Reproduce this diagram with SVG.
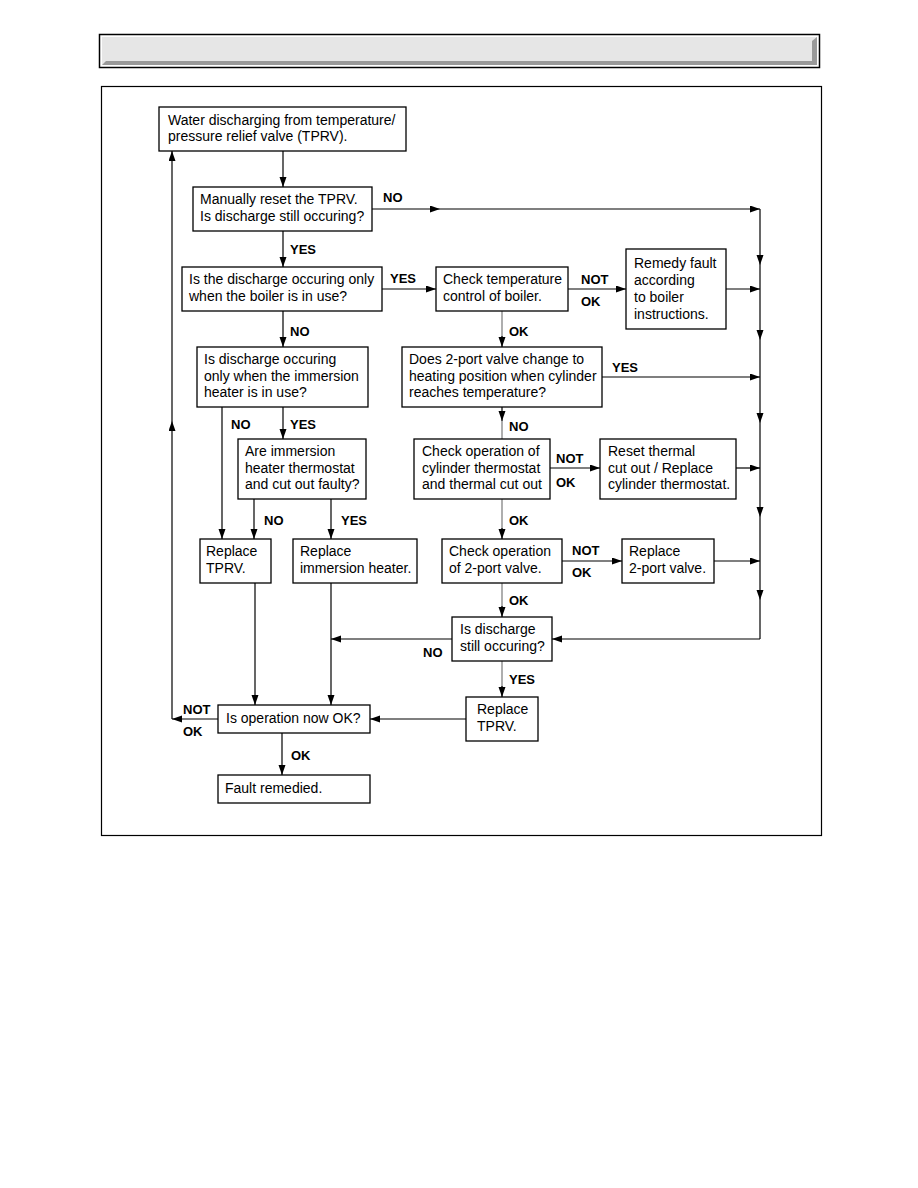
<svg xmlns="http://www.w3.org/2000/svg" width="918" height="1188" viewBox="0 0 918 1188">
<style>
.bx{fill:#fff;stroke:#000;stroke-width:1.3}
.t{font-family:"Liberation Sans",Arial,sans-serif;font-size:14px;fill:#000}
.l{font-family:"Liberation Sans",Arial,sans-serif;font-size:13px;font-weight:bold;fill:#000}
.c{fill:none;stroke:#000;stroke-width:1.2}
.g{fill:none;stroke:#9a9a9a;stroke-width:1.6}
.a{marker-end:url(#arr)}
</style>
<defs>
<marker id="arr" markerUnits="userSpaceOnUse" markerWidth="11" markerHeight="8" refX="10" refY="3.5" orient="auto">
<path d="M0,0 L10,3.5 L0,7 z" fill="#000"/>
</marker>
</defs>
<rect width="918" height="1188" fill="#fff"/>
<g id="header">
<rect x="99.5" y="34.5" width="720" height="33" fill="#fff" stroke="#000" stroke-width="1.5"/>
<rect x="102" y="37" width="715" height="28" fill="#e6e6e6"/>
<polygon points="102,65 106,61 812,61 812,41 817,37 817,65" fill="#999"/>
</g>
<g id="frame">
<rect x="101.5" y="86.5" width="720" height="749" fill="none" stroke="#000" stroke-width="1.2"/>
</g>
<g id="connectors">
<path class="c a" d="M283,151 V187"/>
<path class="c a" d="M283,231 V267"/>
<path class="c a" d="M372,209 H440"/>
<path class="c a" d="M440,209 H760"/>
<path class="c a" d="M760,209 V265"/>
<path class="c a" d="M760,265 V340"/>
<path class="c a" d="M760,340 V423"/>
<path class="c a" d="M760,423 V517"/>
<path class="c a" d="M760,517 V600"/>
<path class="c" d="M760,600 V639"/>
<path class="c a" d="M760,639 H552"/>
<path class="c a" d="M382,289 H436"/>
<path class="c a" d="M568,289 H626"/>
<path class="c a" d="M726,289 H760"/>
<path class="g" d="M502,311 V340"/>
<path class="c a" d="M502,336 V347"/>
<path class="c a" d="M283,311 V347"/>
<path class="c a" d="M602,377 H760"/>
<path class="c a" d="M502,407 V421"/>
<path class="g" d="M502,421 V439"/>
<path class="c a" d="M222,407 V539"/>
<path class="c a" d="M283,407 V439"/>
<path class="c a" d="M254,499 V539"/>
<path class="c a" d="M331,499 V539"/>
<path class="c a" d="M550,468 H600"/>
<path class="c a" d="M736,468 H760"/>
<path class="g" d="M502,499 V530"/>
<path class="c a" d="M502,528 V539"/>
<path class="c a" d="M562,561 H622"/>
<path class="c a" d="M714,561 H760"/>
<path class="g" d="M502,583 V608"/>
<path class="c a" d="M502,606 V617"/>
<path class="c a" d="M452,639 H331"/>
<path class="c a" d="M255,583 V705"/>
<path class="c a" d="M331,583 V705"/>
<path class="g" d="M502,661 V688"/>
<path class="c a" d="M502,686 V697"/>
<path class="c a" d="M466,719 H370"/>
<path class="c a" d="M218,719 H172"/>
<path class="c a" d="M172,719 V421"/>
<path class="c a" d="M172,421 V151"/>
<path class="c a" d="M282,733 V775"/>
<text class="l" x="383" y="202">NO</text>
<text class="l" x="290" y="254">YES</text>
<text class="l" x="390" y="283">YES</text>
<text class="l" x="581" y="284">NOT</text>
<text class="l" x="581" y="306">OK</text>
<text class="l" x="509" y="336">OK</text>
<text class="l" x="290" y="336">NO</text>
<text class="l" x="612" y="372">YES</text>
<text class="l" x="509" y="431">NO</text>
<text class="l" x="231" y="429">NO</text>
<text class="l" x="290" y="429">YES</text>
<text class="l" x="264" y="525">NO</text>
<text class="l" x="341" y="525">YES</text>
<text class="l" x="556" y="463">NOT</text>
<text class="l" x="556" y="487">OK</text>
<text class="l" x="509" y="525">OK</text>
<text class="l" x="572" y="555">NOT</text>
<text class="l" x="572" y="577">OK</text>
<text class="l" x="509" y="605">OK</text>
<text class="l" x="423" y="657">NO</text>
<text class="l" x="509" y="684">YES</text>
<text class="l" x="183" y="714">NOT</text>
<text class="l" x="183" y="736">OK</text>
<text class="l" x="291" y="760">OK</text>
</g>
<g id="n1"><rect class="bx" x="159" y="107" width="247" height="44"/>
<text class="t" x="168" y="124.5">Water discharging from temperature/</text>
<text class="t" x="168" y="140.5">pressure relief valve (TPRV).</text></g>
<g id="n2"><rect class="bx" x="193" y="187" width="179" height="44"/>
<text class="t" x="200" y="204">Manually reset the TPRV.</text>
<text class="t" x="200" y="220.5">Is discharge still occuring?</text></g>
<g id="n3"><rect class="bx" x="182" y="267" width="200" height="44"/>
<text class="t" x="189" y="284">Is the discharge occuring only</text>
<text class="t" x="189" y="300.5">when the boiler is in use?</text></g>
<g id="n4"><rect class="bx" x="436" y="267" width="132" height="44"/>
<text class="t" x="443" y="284">Check temperature</text>
<text class="t" x="443" y="300.5">control of boiler.</text></g>
<g id="n5"><rect class="bx" x="626" y="249" width="100" height="80"/>
<text class="t" x="634" y="268">Remedy fault</text>
<text class="t" x="634" y="285">according</text>
<text class="t" x="634" y="302">to boiler</text>
<text class="t" x="634" y="319">instructions.</text></g>
<g id="n6"><rect class="bx" x="197" y="347" width="171" height="60"/>
<text class="t" x="204" y="364">Is discharge occuring</text>
<text class="t" x="204" y="380.5">only when the immersion</text>
<text class="t" x="204" y="397">heater is in use?</text></g>
<g id="n7"><rect class="bx" x="402" y="347" width="200" height="60"/>
<text class="t" x="409" y="364">Does 2-port valve change to</text>
<text class="t" x="409" y="380.5">heating position when cylinder</text>
<text class="t" x="409" y="397">reaches temperature?</text></g>
<g id="n8"><rect class="bx" x="238" y="439" width="128" height="60"/>
<text class="t" x="245" y="456">Are immersion</text>
<text class="t" x="245" y="472.5">heater thermostat</text>
<text class="t" x="245" y="489">and cut out faulty?</text></g>
<g id="n9"><rect class="bx" x="414" y="439" width="136" height="60"/>
<text class="t" x="422" y="456">Check operation of</text>
<text class="t" x="422" y="472.5">cylinder thermostat</text>
<text class="t" x="422" y="489">and thermal cut out</text></g>
<g id="n10"><rect class="bx" x="600" y="439" width="136" height="60"/>
<text class="t" x="608" y="456">Reset thermal</text>
<text class="t" x="608" y="472.5">cut out / Replace</text>
<text class="t" x="608" y="489">cylinder thermostat.</text></g>
<g id="n11"><rect class="bx" x="200" y="539" width="71" height="44"/>
<text class="t" x="206" y="556">Replace</text>
<text class="t" x="206" y="572.5">TPRV.</text></g>
<g id="n12"><rect class="bx" x="293" y="539" width="124" height="44"/>
<text class="t" x="300" y="556">Replace</text>
<text class="t" x="300" y="572.5">immersion heater.</text></g>
<g id="n13"><rect class="bx" x="442" y="539" width="120" height="44"/>
<text class="t" x="449" y="556">Check operation</text>
<text class="t" x="449" y="572.5">of 2-port valve.</text></g>
<g id="n14"><rect class="bx" x="622" y="539" width="92" height="44"/>
<text class="t" x="629" y="556">Replace</text>
<text class="t" x="629" y="572.5">2-port valve.</text></g>
<g id="n15"><rect class="bx" x="452" y="617" width="100" height="44"/>
<text class="t" x="460" y="634">Is discharge</text>
<text class="t" x="460" y="650.5">still occuring?</text></g>
<g id="n16"><rect class="bx" x="218" y="705" width="152" height="28"/>
<text class="t" x="226" y="723">Is operation now OK?</text></g>
<g id="n17"><rect class="bx" x="466" y="697" width="72" height="44"/>
<text class="t" x="477" y="714">Replace</text>
<text class="t" x="477" y="730.5">TPRV.</text></g>
<g id="n18"><rect class="bx" x="218" y="775" width="152" height="28"/>
<text class="t" x="225" y="793">Fault remedied.</text></g>
</svg>
